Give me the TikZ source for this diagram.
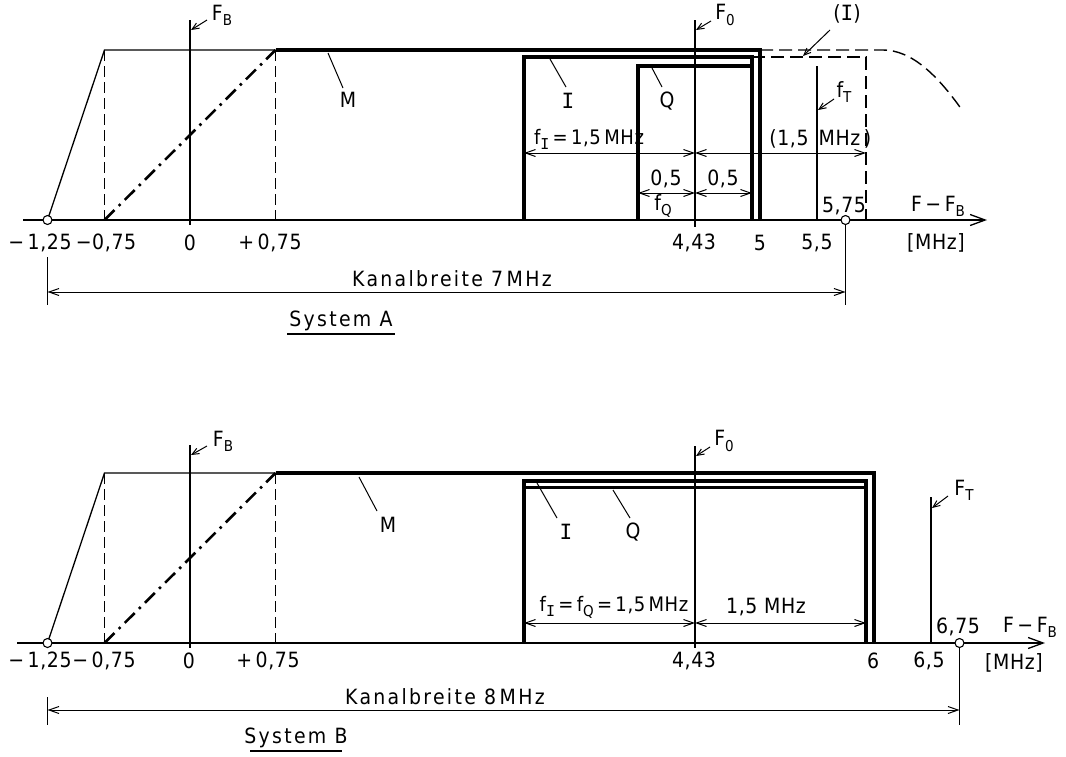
\documentclass[tikz,border=0pt]{standalone}
\usepackage{fontspec}
\setmainfont{DejaVu Sans Condensed}[LetterSpace=3]
\newfontfamily\widefont{DejaVu Sans Condensed}[LetterSpace=11]
\newfontfamily\monoI{DejaVu Sans Mono}
\usetikzlibrary{arrows.meta}
\newcommand\mysub[1]{\raisebox{-0.45ex}{\fontsize{15}{16}\selectfont #1}}
\newcommand\sI{{\monoI I}}
\begin{document}
\begin{tikzpicture}[x=1pt,y=-1pt,
  every node/.style={inner sep=0pt,font=\fontsize{21}{24}\selectfont},
  wide/.style={font=\fontsize{21}{24}\widefont},
  small/.style={font=\fontsize{20}{23}\selectfont},
  thinl/.style={line width=1.3pt},
  thickl/.style={line width=3.2pt,line join=miter},
  refl/.style={line width=2pt},
  axisl/.style={line width=1.3pt,-{Straight Barb[length=15pt,width=11pt,line width=1.3pt]}},
  dashv/.style={line width=1.2pt,dash pattern=on 11pt off 5pt},
  dashl/.style={line width=1.4pt,dash pattern=on 13pt off 6pt},
  dashdot/.style={line width=2.6pt,dash pattern=on 14pt off 6pt on 2.5pt off 6pt},
  diml/.style={line width=1pt,{Straight Barb[length=10pt,width=7pt]}-{Straight Barb[length=10pt,width=7pt]}},
  leader/.style={line width=1pt},
  leadarr/.style={line width=1pt,-{Straight Barb[length=7pt,width=6pt]}},
  circ/.style={circle,draw,line width=1.1pt,fill=white,minimum size=9pt,inner sep=0pt}]
\useasboundingbox (0,0) rectangle (1066,756);

% ================= System A =================
\coordinate (a0) at (23,220); \coordinate (a1) at (987,220);
\draw[axisl] (a0) -- (a1);
\coordinate (am125) at (47.5,220);
\coordinate (am075b) at (104.5,220); \coordinate (am075t) at (104.5,50);
\coordinate (ap075b) at (275.5,220); \coordinate (ap075t) at (275.5,50);
\coordinate (a5t) at (760,50); \coordinate (a5b) at (760,220);
\draw[thinl] (am125) -- (am075t) -- (ap075t);
\draw[thickl] (ap075t) -- (a5t) -- (a5b);
\draw[dashv] (am075t) -- (am075b);
\draw[dashv] (ap075t) -- (ap075b);
\draw[dashdot] (am075b) -- (ap075t);
\coordinate (aFBt) at (190,20); \coordinate (aFBb) at (190,225);
\draw[refl] (aFBt) -- (aFBb);
\coordinate (aF0t) at (695,20); \coordinate (aF0b) at (695,227);
\draw[thinl] (aF0t) -- (aF0b);
% I and Q
\coordinate (aIlb) at (524,220); \coordinate (aIlt) at (524,57);
\coordinate (aIrt) at (752,57); \coordinate (aIrb) at (752,220);
\draw[thickl] (aIlb) -- (aIlt) -- (aIrt) -- (aIrb);
\coordinate (aQlb) at (638,220); \coordinate (aQlt) at (638,66); \coordinate (aQrt) at (752,66);
\draw[thickl] (aQlb) -- (aQlt) -- (aQrt);
\coordinate (aIdt) at (866,57); \coordinate (aIdb) at (866,220);
\draw[dashl] (aIrt) -- (aIdt) -- (aIdb);
\coordinate (aMd) at (883,50); \coordinate (aMe) at (962,110);
\draw[dashl] (a5t) -- (aMd) .. controls (912,50) and (938,76) .. (aMe);
\coordinate (afTt) at (817,66); \coordinate (afTb) at (817,220);
\draw[thinl] (afTt) -- (afTb);
% circles and Kanalbreite
\node[circ] (ac1) at (47.5,220) {};
\node[circ] (ac2) at (845.5,220) {};
\coordinate (aex1t) at (47.5,257); \coordinate (aex1b) at (47.5,305);
\coordinate (aex2b) at (845.5,305);
\draw[thinl] (aex1t) -- (aex1b);
\draw[thinl] (ac2) -- (aex2b);
\coordinate (akb1) at (47.5,292); \coordinate (akb2) at (845.5,292);
\draw[diml] (akb1) -- (akb2);
\node[wide] (akbt) at (452,279) {Kanalbreite 7\,MHz};
\node[wide] (asys) at (341,321) {System A};
\draw[line width=1.6pt] (287,334) -- (395,334);
% dimension lines
\coordinate (ad1) at (524,153); \coordinate (ad2) at (695,153); \coordinate (ad3) at (866,153);
\draw[diml] (ad1) -- (ad2);
\draw[diml] (ad2) -- (ad3);
\coordinate (ae1) at (638,193); \coordinate (ae2) at (695,193); \coordinate (ae3) at (752,193);
\draw[diml] (ae1) -- (ae2);
\draw[diml] (ae2) -- (ae3);
\node[small] (afI) at (589,139) {f\mysub{\sI}\,=\,1,5\,MHz};
\node (a15a) at (789,139) {(1,5};
\node (a15b) at (845,139) {MHz\,)};
\node (a05a) at (666,179) {0,5};
\node (a05b) at (723,179) {0,5};
\node (afQ) at (663,206) {f\mysub{Q}};
% tick labels
\node at (40,243) {−\,1,25};
\node at (106,243) {−0,75};
\node at (190,243) {0};
\node at (270,243) {+\,0,75};
\node at (694,243) {4,43};
\node at (760,243) {5};
\node at (817,243) {5,5};
\node at (844,206) {5,75};
\node at (938,206) {F\,−\,F\mysub{B}};
\node at (936,243) {[MHz]};
% labels with leaders
\node (aFB) at (222,15) {F\mysub{B}};
\draw[leadarr] (207,20) -- (191,30);
\node (aF0) at (725,15) {F\mysub{0}};
\draw[leadarr] (711,21) -- (696,30);
\node (aM) at (348,100) {M};
\draw[leader] (343,88) -- (328,53);
\node (aIl) at (568,101) {\sI};
\draw[leader] (566,87) -- (550,59);
\node (aQl) at (667,101) {Q};
\draw[leader] (662,87) -- (652,68);
\node (aIp) at (847,14) {(\sI)};
\draw[leadarr] (830,30) -- (803,56);
\node (afT) at (844,92) {f\mysub{T}};
\draw[leadarr] (834,99) -- (818,110);

% ================= System B =================
\coordinate (b0) at (17,643); \coordinate (b1) at (1045,643);
\draw[axisl] (b0) -- (b1);
\coordinate (bm125) at (47.5,643);
\coordinate (bm075b) at (104.5,643); \coordinate (bm075t) at (104.5,473);
\coordinate (bp075b) at (275.5,643); \coordinate (bp075t) at (275.5,473);
\coordinate (b6t) at (874,473); \coordinate (b6b) at (874,643);
\draw[thinl] (bm125) -- (bm075t) -- (bp075t);
\draw[thickl] (bp075t) -- (b6t) -- (b6b);
\draw[dashv] (bm075t) -- (bm075b);
\draw[dashv] (bp075t) -- (bp075b);
\draw[dashdot] (bm075b) -- (bp075t);
\coordinate (bFBt) at (190,445); \coordinate (bFBb) at (190,648);
\draw[refl] (bFBt) -- (bFBb);
\coordinate (bF0t) at (695,446); \coordinate (bF0b) at (695,648);
\draw[thinl] (bF0t) -- (bF0b);
\coordinate (bIlb) at (524,643); \coordinate (bIlt) at (524,481);
\coordinate (bIrt) at (866,481); \coordinate (bIrb) at (866,643);
\draw[thickl] (bIlb) -- (bIlt) -- (bIrt) -- (bIrb);
\coordinate (bQl) at (524,487.5); \coordinate (bQr) at (866,487.5);
\draw[thickl] (bQl) -- (bQr);
\coordinate (bFTt) at (931,497); \coordinate (bFTb) at (931,643);
\draw[thinl] (bFTt) -- (bFTb);
\node[circ] (bc1) at (47.5,643) {};
\node[circ] (bc2) at (959.5,643) {};
\coordinate (bex1t) at (47.5,697); \coordinate (bex1b) at (47.5,725);
\coordinate (bex2b) at (959.5,725);
\draw[thinl] (bex1t) -- (bex1b);
\draw[thinl] (bc2) -- (bex2b);
\coordinate (bkb1) at (47.5,710); \coordinate (bkb2) at (959.5,710);
\draw[diml] (bkb1) -- (bkb2);
\node[wide] (bkbt) at (445,697) {Kanalbreite 8\,MHz};
\node[wide] (bsys) at (296,738) {System B};
\draw[line width=1.6pt] (250,751) -- (342,751);
\coordinate (bd1) at (524,623); \coordinate (bd2) at (695,623); \coordinate (bd3) at (866,623);
\draw[diml] (bd1) -- (bd2);
\draw[diml] (bd2) -- (bd3);
\node[small] (bfIQ) at (614,607) {f\mysub{\sI}\,=\,f\mysub{Q}\,=\,1,5\,MHz};
\node (b15) at (766,607) {1,5 MHz};
% tick labels
\node at (40,661) {−\,1,25};
\node at (104,661) {−\,0,75};
\node at (189,661) {0};
\node at (268,661) {+\,0,75};
\node at (694,661) {4,43};
\node at (873,661) {6};
\node at (929,661) {6,5};
\node at (958,627) {6,75};
\node at (1030,627) {F\,−\,F\mysub{B}};
\node at (1014,663) {[MHz]};
% labels with leaders
\node (bFB) at (223,441) {F\mysub{B}};
\draw[leadarr] (207,446) -- (191,455);
\node (bF0) at (724,441) {F\mysub{0}};
\draw[leadarr] (710,447) -- (696,456);
\node (bM) at (388,525) {M};
\draw[leader] (377,511) -- (359,477);
\node (bIl) at (566,532) {\sI};
\draw[leader] (557,518) -- (537,483);
\node (bQl2) at (633,532) {Q};
\draw[leader] (630,518) -- (613,490);
\node (bFT) at (964,490) {F\mysub{T}};
\draw[leadarr] (948,496) -- (932,508);
\end{tikzpicture}
\end{document}
